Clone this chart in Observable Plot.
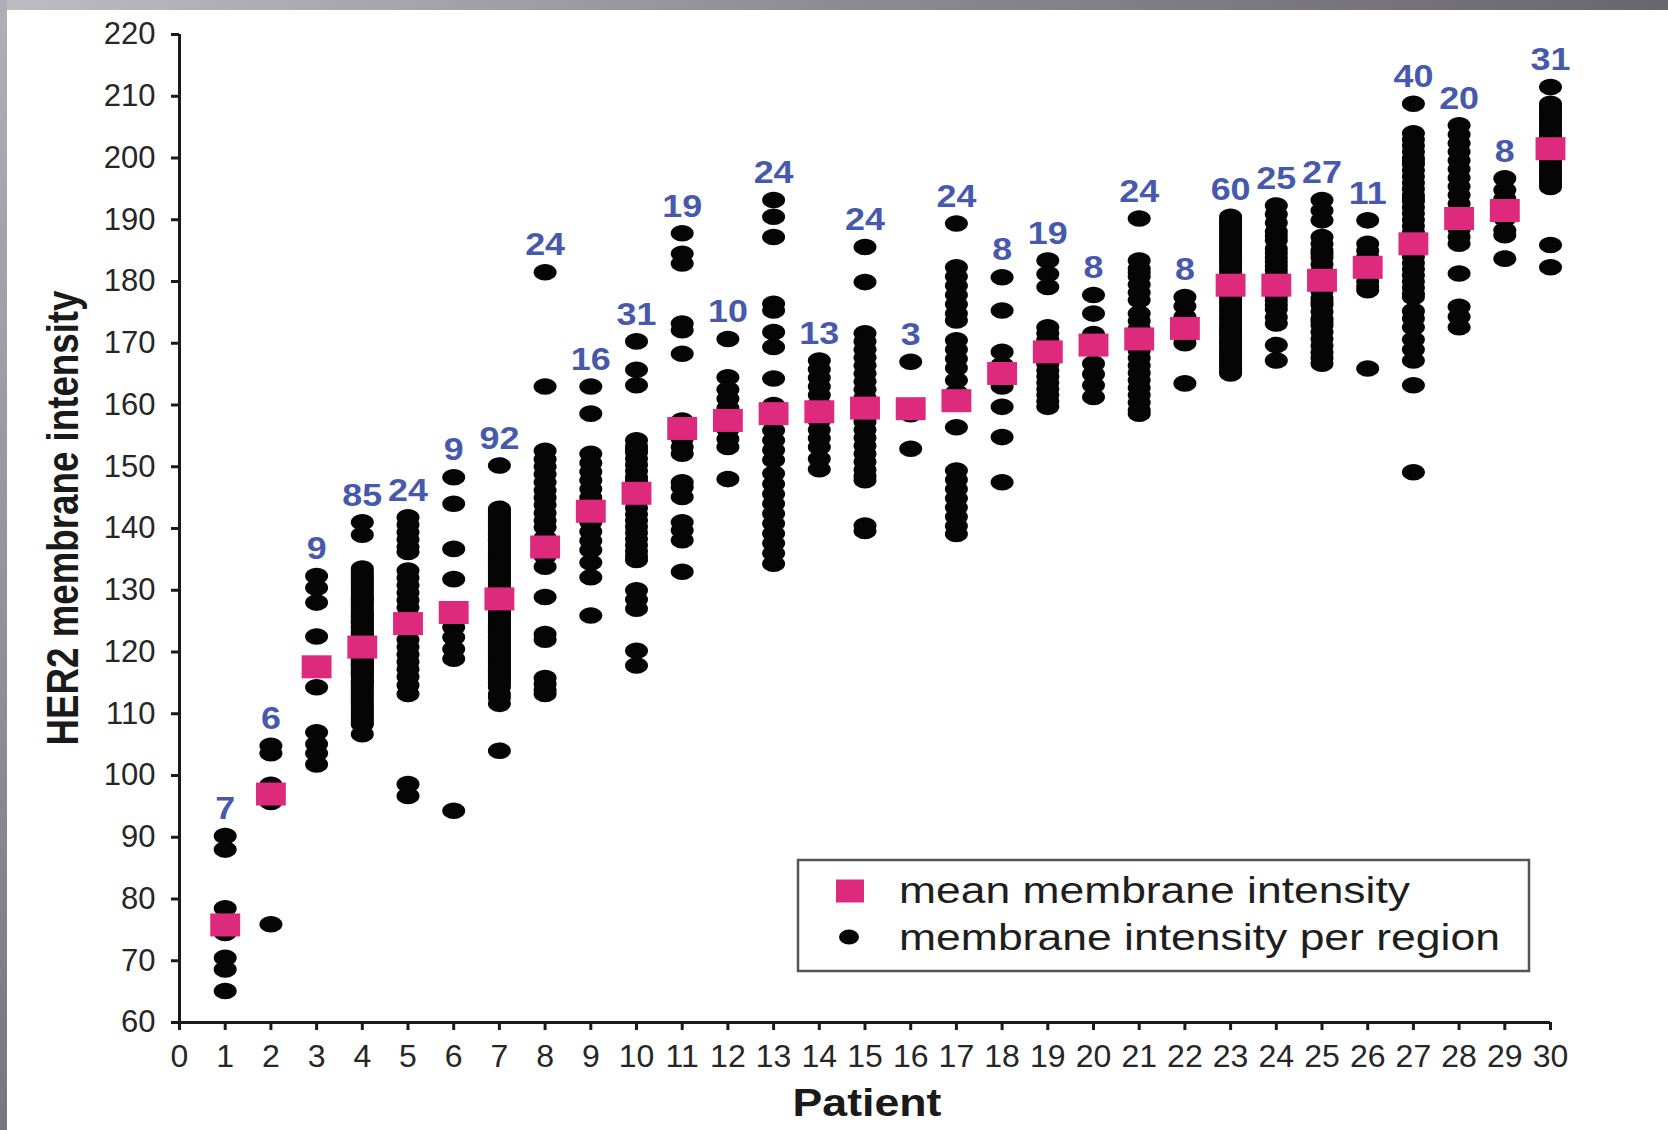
<!DOCTYPE html>
<html><head><meta charset="utf-8">
<script src="https://cdn.jsdelivr.net/npm/d3@7"></script>
<script src="https://cdn.jsdelivr.net/npm/@observablehq/plot@0.6"></script>
<style>
html,body{margin:0;padding:0;background:#fff;}
#topbar{position:absolute;left:0;top:0;width:1668px;height:10px;background:linear-gradient(to right,#bdbcc2,#8e8c93 50%,#69676d);}
#leftbar{position:absolute;left:0;top:0;width:7px;height:1130px;background:linear-gradient(to bottom,#b0afb5,#908f95 60%,#77767c);}
#chart{position:absolute;left:7px;top:10px;}
</style></head><body>
<div id="topbar"></div><div id="leftbar"></div><div id="chart"></div>
<script>
// ---- data ----
const patients = d3.range(1, 31);
const regionCounts = [7, 6, 9, 85, 24, 9, 92, 24, 16, 31, 19, 10, 24, 13, 24, 3, 24, 8, 19, 8, 24, 8, 60, 25, 27, 11, 40, 20, 8, 31];
const meanIntensity = [75.8, 97, 117.6, 120.8, 124.6, 126.4, 128.6, 137, 142.8, 145.7, 156.2, 157.5, 158.6, 158.9, 159.5, 159.4, 160.7, 165.1, 168.6, 169.7, 170.7, 172.4, 179.4, 179.4, 180.2, 182.3, 186.1, 190.2, 191.5, 201.5];
const xTicks = d3.range(0, 31);
const yTicks = [60, 70, 80, 90, 100, 110, 120, 130, 140, 150, 160, 170, 180, 190, 200, 210, 220];

// per-region membrane intensity, one array per patient
const p01 = [90.2, 88, 78.5, 74.5, 70.5, 68.6, 65.1];
const p02 = [104.8, 103.6, 98.5, 97.5, 95.7, 75.9];
const p03 = [132.3, 130.4, 128, 122.5, 114.3, 107, 105.1, 103.6, 101.8];
const p04 = [141, 139, 133.5, 133, 132.6, 132.2, 131.8, 131.4, 131, 130.6,
  130.2, 129.8, 129.4, 129, 128.6, 128.2, 127.8, 127.4, 127, 126.6,
  126.2, 125.8, 125.4, 125, 124.6, 124.2, 123.8, 123.4, 123, 122.6,
  122.2, 121.8, 121.4, 121, 120.6, 120.2, 119.8, 119.4, 119, 118.6,
  118.2, 117.8, 117.4, 117, 116.6, 116.2, 115.8, 115.4, 115, 114.6,
  114.2, 113.8, 113.4, 113, 112.6, 112.2, 111.8, 111.4, 111, 110.6,
  110.2, 109.8, 109.4, 109, 108.6, 108.3, 106.7, 128.5, 126, 124,
  122.5, 121.2, 120.5, 119.2, 118, 116.8, 121.6, 120.8, 119.6, 118.4,
  117.6, 123.2, 124.8, 116.4, 115.2];
const p05 = [141.8, 140.6, 139.4, 138.2, 137, 136.2, 133.2, 132, 130.8, 129.6, 128.4, 127.2, 125.8, 123.5, 120.8, 119.6, 118.4, 117.2, 116, 114.6, 113.2, 98.6, 96.7, 122];
const p06 = [148.3, 144, 136.7, 131.8, 124, 122.4, 120.5, 118.9, 94.3];
const p07 = [150.2, 143.2, 142.9, 142.5, 142.2, 141.9, 141.5, 141.2, 140.9, 140.5,
  140.2, 139.9, 139.5, 139.2, 138.9, 138.5, 138.2, 137.9, 137.5, 137.2,
  136.9, 136.5, 136.2, 135.9, 135.5, 135.2, 134.9, 134.5, 134.2, 133.9,
  133.5, 133.2, 132.9, 132.5, 132.2, 131.9, 131.5, 131.2, 130.9, 130.5,
  130.2, 129.9, 129.5, 129.2, 128.9, 128.5, 128.2, 127.9, 127.5, 127.2,
  126.9, 126.5, 126.2, 125.9, 125.5, 125.2, 124.9, 124.5, 124.2, 123.9,
  123.5, 123.2, 122.9, 122.5, 122.2, 121.9, 121.5, 121.2, 120.9, 120.5,
  120.2, 119.9, 119.5, 119.2, 118.9, 118.5, 118.2, 117.9, 117.5, 117.2,
  116.9, 116.5, 116.2, 115.9, 115.5, 115.2, 114.8, 114.3, 111.6, 104,
  113.2, 112.6];
const p08 = [181.5, 163, 152.6, 151.2, 150, 148.8, 147.5, 146.2, 145, 143.8, 142.5, 141.3, 140.2, 138.5, 137, 135.5, 133.8, 128.9, 122.9, 122, 115.8, 114.8, 113.8, 113.2];
const p09 = [163, 158.6, 152.1, 150.6, 149.2, 147.8, 146.4, 145, 143.6, 141, 139.5, 138, 136.5, 134.5, 132.1, 125.9];
const p10 = [170.3, 165.7, 163.2, 154.3, 153.3, 152.3, 151.3, 150.3, 149.3, 148.3,
  147.3, 146.3, 145.3, 144.3, 143.3, 142.3, 141.3, 140.3, 139.3, 138.3,
  137.3, 136.3, 135.5, 134.9, 130, 128.5, 127, 120.2, 117.8, 152.8, 147.8];
const p11 = [187.8, 184.5, 182.9, 173.2, 172.1, 168.3, 157.5, 155.5, 153.2, 152.1, 147.5, 146.7, 145.1, 141, 139.7, 138.1, 133, 154.5, 156.5];
const p12 = [170.7, 164.5, 162.5, 161, 159.5, 158, 156, 154.5, 153.2, 148];
const p13 = [193.2, 190.5, 187.2, 176.4, 175.3, 171.8, 169.4, 164.3, 160, 157.5, 155.9, 154.3, 152.7, 151.1, 148.9, 147.2, 145.6, 144, 142.4, 140.8, 139.2, 137.6, 136, 134.3];
const p14 = [167.2, 165.8, 164.4, 163, 161.6, 160.2, 158.8, 157.4, 156, 154.6, 153.2, 151.3, 149.6];
const p15 = [185.6, 179.9, 171.6, 170.3, 169, 167.7, 166.4, 165.1, 163.8, 162.5, 161.2, 159.9, 158.6, 157.3, 156, 154.7, 153.4, 152.1, 150.8, 149.5, 148.5, 147.8, 140.5, 139.6];
const p16 = [167, 158.5, 152.9];
const p17 = [189.4, 182.3, 180.8, 179.3, 177.8, 176.3, 174.8, 173.7, 170.5, 169, 167.5, 166, 164, 160.7, 156.4, 149.4, 147.9, 146.4, 144.9, 143.4, 141.9, 140.4, 139.1, 162];
const p18 = [180.7, 175.3, 168.6, 166.5, 163, 159.7, 154.8, 147.5];
const p19 = [183.4, 181.2, 179.1, 172.6, 171.6, 170.6, 169.6, 168.6, 167.6, 166.6, 165.6, 164.6, 163.6, 162.6, 161.6, 160.6, 159.7, 170, 167];
const p20 = [177.8, 174.8, 171.5, 169.5, 166.7, 165, 163.2, 161.3];
const p21 = [190.2, 183.4, 182.1, 180.8, 179.5, 178.2, 177, 174.8, 173.6, 172.4, 171.2, 170, 168.8, 167.6, 166.4, 165.2, 164, 162.8, 161.6, 160.4, 159.2, 158.6, 169.4, 181.5];
const p22 = [177.5, 176, 174.3, 172.8, 171.8, 170.8, 170, 163.5];
const p23 = [190.5, 190, 189.6, 189.2, 188.7, 188.3, 187.9, 187.4, 187, 186.6,
  186.1, 185.7, 185.3, 184.8, 184.4, 184, 183.5, 183.1, 182.7, 182.2,
  181.8, 181.4, 180.9, 180.5, 180.1, 179.6, 179.2, 178.8, 178.3, 177.9,
  177.5, 177, 176.6, 176.2, 175.7, 175.3, 174.9, 174.4, 174, 173.6,
  173.1, 172.7, 172.3, 171.8, 171.4, 171, 170.5, 170.1, 169.7, 169.2,
  168.8, 168.4, 167.9, 167.5, 167.1, 166.6, 166.2, 165.8, 165.4, 165.1];
const p24 = [192.3, 190.9, 189.5, 188.1, 186.7, 185.3, 183.9, 182.5, 181.1, 179.7, 178.3, 176.9, 175.5, 174.2, 173.2, 169.7, 167.2, 187.4, 184.6, 181.8, 179, 177.6, 176.2, 180.4, 183.2];
const p25 = [193.2, 191.5, 189.9, 187.2, 186.1, 185, 183.9, 182.8, 181.7, 180.6, 179.5, 178.4, 177.3, 176.2, 175.1, 174, 172.9, 171.8, 170.7, 169.6, 168.5, 167.6, 166.7, 184.5, 180, 176.7, 173.5];
const p26 = [189.9, 186.1, 185, 184, 183, 182, 181, 180, 179.2, 178.6, 165.9];
const p27 = [208.8, 204, 203, 202, 201, 200, 199, 198, 197, 196,
  195, 194, 193, 192, 191, 190, 189, 188, 187, 186,
  185, 184, 183, 182, 181, 180, 179, 178, 177.5, 175.2,
  174, 172.6, 170.6, 169, 167.2, 163.2, 149.1, 199.5, 193.5, 187.5];
const p28 = [205.3, 203.8, 202.4, 201, 199.6, 198.2, 196.8, 195.4, 194, 192.6, 191.2, 189.8, 188.4, 187.2, 186.1, 181.3, 175.9, 174.3, 172.6, 190.5];
const p29 = [196.7, 194.8, 193.4, 192, 190.2, 188.3, 187.5, 183.7];
const p30 = [211.5, 208.3, 207.8, 207.3, 206.8, 206.3, 205.8, 205.3, 204.8, 204.3,
  203.8, 203.3, 202.8, 202.3, 201.8, 201.3, 200.8, 200.3, 199.8, 199.3,
  198.8, 198.3, 197.8, 197.3, 196.8, 196.3, 195.8, 195.3, 208.8, 185.9, 182.3];

// ---- tables built from the arrays ----
const perPatient = [p01,p02,p03,p04,p05,p06,p07,p08,p09,p10,p11,p12,p13,p14,p15,p16,p17,p18,p19,p20,p21,p22,p23,p24,p25,p26,p27,p28,p29,p30];
const regions = perPatient.flatMap((vals, i) => vals.map(v => ({patient: patients[i], value: v})));
const means = patients.map((p, i) => ({patient: p, value: meanIntensity[i]}));
const labels = patients.map((p, i) => ({patient: p, top: d3.max(perPatient[i]), n: regionCounts[i]}));

// ---- symbols ----
const ellipseSym = {draw(ctx, size) {
  const r = Math.sqrt(size / Math.PI), rx = r, ry = r * 0.72, k = 0.5523;
  ctx.moveTo(rx, 0);
  ctx.bezierCurveTo(rx, ry*k, rx*k, ry, 0, ry);
  ctx.bezierCurveTo(-rx*k, ry, -rx, ry*k, -rx, 0);
  ctx.bezierCurveTo(-rx, -ry*k, -rx*k, -ry, 0, -ry);
  ctx.bezierCurveTo(rx*k, -ry, rx, -ry*k, rx, 0);
  ctx.closePath();
}};
const rectSym = {draw(ctx, size) {
  const r = Math.sqrt(size / Math.PI), w = r * 2.3, h = r * 1.77;
  ctx.rect(-w/2, -h/2, w, h);
}};

const PINK = "#de2a7c", BLUE = "#4659ad";
const W = 1661, H = 1120;

const chart = Plot.plot({
  width: W, height: H,
  marginLeft: 172, marginRight: 118, marginTop: 24, marginBottom: 108,
  x: {domain: [0, 30]},
  y: {domain: [60, 220]},
  style: {fontFamily: "'Liberation Sans', Arial, sans-serif", background: "#fff", overflow: "visible"},
  marks: [
    Plot.axisY({ticks: yTicks, tickSize: 8, tickPadding: 16, strokeWidth: 3, fontSize: 31, fill: "#262626", stroke: "#1a1a1a", label: null}),
    Plot.axisX({ticks: xTicks, tickSize: 8, tickPadding: 14, strokeWidth: 3, fontSize: 32, fill: "#262626", stroke: "#1a1a1a", tickFormat: d => String(d), label: null}),
    Plot.ruleX([0], {y1: 60, y2: 220, stroke: "#1a1a1a", strokeWidth: 3}),
    Plot.ruleY([60], {x1: 0, x2: 30, stroke: "#1a1a1a", strokeWidth: 3}),
    Plot.dot(regions, {x: "patient", y: "value", r: 11.5, symbol: ellipseSym, fill: "#050505", stroke: "none"}),
    Plot.dot(means, {x: "patient", y: "value", r: 13, symbol: rectSym, fill: PINK, stroke: "none"}),
    Plot.text(labels, {x: "patient", y: "top", text: d => String(d.n), dy: -27, fontSize: 32, fontWeight: "bold", fill: BLUE})
  ]
});
document.getElementById("chart").appendChild(chart);

const svg = d3.select(chart);
// stretch the count labels a little horizontally, as in the reference
svg.selectAll('g[aria-label="text"] text').each(function() {
  const L = this.getComputedTextLength();
  this.setAttribute("textLength", (L * 1.12).toFixed(1));
  this.setAttribute("lengthAdjust", "spacingAndGlyphs");
});

// axis titles
svg.append("text")
  .attr("transform", "translate(56,508) rotate(-90)")
  .attr("text-anchor", "middle").attr("dy", "0.35em")
  .attr("font-size", 44).attr("font-weight", "bold").attr("fill", "#1a1a1a")
  .attr("textLength", 455).attr("lengthAdjust", "spacingAndGlyphs")
  .text("HER2 membrane intensity");
svg.append("text")
  .attr("x", 860).attr("y", 1106)
  .attr("text-anchor", "middle")
  .attr("font-size", 38).attr("font-weight", "bold").attr("fill", "#1a1a1a")
  .attr("textLength", 149).attr("lengthAdjust", "spacingAndGlyphs")
  .text("Patient");

// legend
const lg = svg.append("g").attr("text-anchor", "start");
lg.append("rect").attr("x", 791).attr("y", 850).attr("width", 731).attr("height", 111)
  .attr("fill", "#fff").attr("stroke", "#555").attr("stroke-width", 2.5);
lg.append("rect").attr("x", 843 - 14).attr("y", 881 - 11.5).attr("width", 28).attr("height", 23).attr("fill", PINK);
lg.append("ellipse").attr("cx", 842).attr("cy", 927).attr("rx", 10).attr("ry", 7.5).attr("fill", "#050505");
lg.append("text").attr("x", 892).attr("y", 880).attr("dy", "0.35em").attr("text-anchor", "start")
  .attr("font-size", 37).attr("fill", "#1e1e1e")
  .attr("textLength", 511).attr("lengthAdjust", "spacingAndGlyphs")
  .text("mean membrane intensity");
lg.append("text").attr("x", 892).attr("y", 927).attr("dy", "0.35em").attr("text-anchor", "start")
  .attr("font-size", 37).attr("fill", "#1e1e1e")
  .attr("textLength", 601).attr("lengthAdjust", "spacingAndGlyphs")
  .text("membrane intensity per region");
</script></body></html>
